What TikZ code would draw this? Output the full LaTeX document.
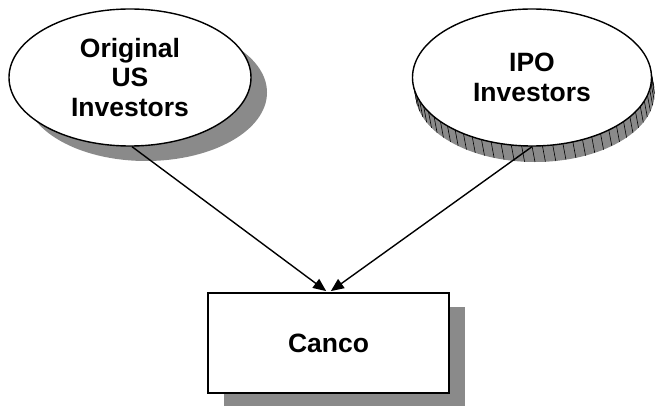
\documentclass[tikz,border=0pt]{standalone}
\usepackage{fontspec}
\setmainfont{Liberation Sans}
\usetikzlibrary{shapes.geometric,arrows.meta}
\definecolor{shadowgray}{RGB}{138,138,138}
\tikzset{
  oval/.style={ellipse,draw=black,line width=1.4pt,fill=white,inner sep=0pt,
    minimum width=242pt,minimum height=137pt,align=center,
    font=\fontsize{26.5}{29.5}\selectfont\bfseries},
  boxnode/.style={rectangle,draw=black,line width=2.6pt,fill=white,inner sep=0pt,
    minimum width=241pt,minimum height=100pt,
    font=\fontsize{26.5}{29.5}\selectfont\bfseries},
  link/.style={line width=1.4pt,-{Triangle[length=13pt,width=11pt]},shorten >=1pt},
  shadowfill/.style={fill=shadowgray,draw=none}
}
\begin{document}
\begin{tikzpicture}[x=1pt,y=-1pt]
\useasboundingbox (0,0) rectangle (657,406);
% left shadow (offset ellipse)
\path[shadowfill] (146,92.5) ellipse [x radius=121, y radius=68.5];
% right extrusion
\foreach \t in {0,0.05,...,1.001}
  \path[shadowfill] ({532+3*\t},{77.5+16*\t}) ellipse [x radius=119.5, y radius=68.5];
\foreach \a in {-10,-5,...,170}
  \draw[line width=0.6pt] ({532+119.5*cos(\a)},{77.5+68.5*sin(\a)}) -- ++(3,16);
% box shadow
\path[shadowfill] (224,307) rectangle (465,406);
% nodes
\node[oval] (orig) at (130,77.5) {Original\\US\\Investors};
\node[oval, minimum width=239pt] (ipo) at (532,77.5) {IPO\\Investors};
\node[boxnode] (canco) at (328.5,343) {Canco};
% connectors
\draw[link] ([xshift=2pt]orig.south) -- ([xshift=-1.5pt]canco.north);
\draw[link] (ipo.south) -- ([xshift=1.5pt]canco.north);
\end{tikzpicture}
\end{document}
